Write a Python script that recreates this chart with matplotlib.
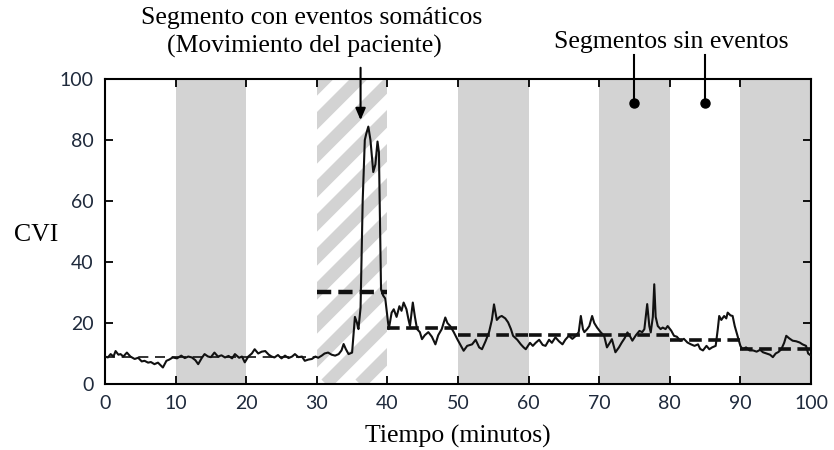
import numpy as np
import matplotlib
matplotlib.use("Agg")
import matplotlib.pyplot as plt
from matplotlib.patches import Rectangle

# CVI signal over time (minutes)
t_min = [0, 0.4, 0.8, 1.2, 1.5, 1.9, 2.2, 2.6, 3.1, 3.6, 4.2, 4.7, 5.2, 5.6, 6.1, 6.5, 7.0, 7.5, 8.2, 8.7,
         9.1, 9.6, 10.2, 10.8, 11.3, 11.8, 12.3, 12.8, 13.2, 13.7, 14.1, 14.6, 15.0, 15.5, 16.0, 16.5, 17.0,
         17.5, 18.0, 18.4, 19.0, 19.4, 19.8, 20.3, 20.8, 21.2, 21.7, 22.2, 22.7, 23.2, 23.6, 24.0, 24.5,
         25.0, 25.5, 26.0, 26.5, 26.9, 27.4, 27.9, 28.3, 28.8, 29.3, 29.8, 30.2, 30.7, 31.1, 31.6, 32.1,
         32.6, 33.1, 33.5, 33.8, 34.1, 34.5, 35.0, 35.4, 35.7, 35.9, 36.2, 36.5, 36.8, 37.0, 37.3, 37.6,
         38.0, 38.3, 38.6, 38.8, 39.1, 39.4, 39.7, 40.0, 40.2, 40.6, 40.9, 41.3, 41.7, 42.0, 42.3, 42.7,
         43.0, 43.2, 43.6, 43.9, 44.2, 44.6, 44.9, 45.3, 45.8, 46.3, 46.8, 47.2, 47.7, 48.2, 48.5, 48.9,
         49.4, 49.9, 50.3, 50.8, 51.3, 52.0, 52.5, 53.0, 53.4, 53.9, 54.4, 54.8, 55.1, 55.5, 55.9, 56.2,
         56.7, 57.1, 57.5, 57.8, 58.4, 58.9, 59.3, 59.6, 60.2, 60.6, 61.0, 61.5, 62.0, 62.4, 62.9, 63.3,
         63.8, 64.3, 64.8, 65.2, 65.7, 66.2, 66.7, 67.1, 67.4, 67.7, 67.9, 68.3, 68.6, 69.0, 69.3, 69.7,
         70.2, 70.7, 71.1, 71.5, 71.8, 72.3, 72.8, 73.2, 73.6, 74.0, 74.4, 74.7, 75.2, 75.7, 76.1, 76.4,
         76.8, 77.1, 77.3, 77.6, 77.8, 78.0, 78.3, 78.7, 79.0, 79.4, 79.7, 80.2, 80.6, 81.0, 81.5, 82.0,
         82.5, 83.0, 83.5, 84.0, 84.3, 84.7, 85.2, 85.6, 86.0, 86.5, 86.8, 87.0, 87.3, 87.7, 88.0, 88.2,
         88.6, 88.9, 89.2, 89.6, 90.0, 90.3, 90.8, 91.3, 91.8, 92.3, 92.8, 93.2, 93.7, 94.2, 94.6, 95.0,
         95.4, 95.8, 96.2, 96.5, 96.9, 97.4, 97.9, 98.4, 98.8, 99.3, 99.6, 100.0]
cvi = [9.0, 8.7, 9.8, 9.0, 10.8, 9.6, 9.8, 9.0, 10.3, 9.0, 8.2, 8.6, 7.4, 7.6, 7.0, 7.2, 6.5, 7.0, 5.4, 7.6,
       8.0, 8.7, 8.4, 9.3, 8.5, 9.0, 8.7, 7.8, 6.5, 8.5, 9.8, 9.0, 8.8, 10.3, 9.0, 9.4, 8.7,
       9.2, 8.4, 9.8, 8.6, 9.0, 7.1, 9.0, 10.0, 11.4, 10.0, 10.6, 10.8, 9.6, 9.0, 8.7, 9.5,
       8.4, 9.3, 8.5, 9.0, 9.8, 8.8, 9.0, 7.6, 8.0, 8.2, 9.0, 8.6, 9.3, 10.0, 10.3, 9.6,
       9.3, 9.8, 11.0, 13.1, 11.5, 9.8, 10.3, 22.0, 20.0, 18.0, 25.0, 60.0, 80.0, 82.0, 84.4, 80.0,
       69.5, 72.0, 79.5, 76.0, 31.0, 29.0, 28.0, 22.0, 18.0, 23.4, 24.5, 22.0, 25.5, 24.0, 26.7, 24.5,
       21.0, 19.0, 26.7, 22.0, 18.0, 17.0, 14.7, 16.0, 17.0, 15.5, 13.0, 16.0, 18.0, 21.8, 20.0, 19.0,
       17.0, 14.7, 13.0, 10.9, 12.5, 13.0, 14.5, 12.0, 11.4, 14.0, 17.0, 21.0, 26.1, 21.0, 22.0, 22.3,
       21.5, 20.2, 18.0, 15.8, 14.5, 13.0, 12.0, 11.4, 13.5, 12.5, 13.5, 14.5, 12.8, 12.5, 14.5, 13.5,
       15.3, 14.0, 13.0, 14.5, 15.8, 14.8, 15.8, 17.0, 22.3, 18.0, 17.0, 18.0, 19.0, 22.3, 20.0, 18.5,
       17.0, 15.8, 12.0, 13.5, 14.7, 10.4, 12.0, 13.6, 15.0, 16.9, 15.5, 14.2, 16.0, 17.4, 17.0, 18.0,
       26.2, 19.0, 16.9, 22.0, 32.7, 22.0, 19.0, 18.0, 18.5, 18.0, 19.0, 17.5, 15.8, 15.5, 14.2, 14.8,
       13.6, 13.0, 12.5, 13.0, 11.5, 11.0, 12.5, 11.4, 12.0, 12.5, 18.0, 22.3, 21.0, 22.3, 21.5, 23.4,
       22.5, 22.3, 19.0, 15.8, 12.5, 11.4, 12.0, 11.0, 11.0, 10.6, 11.2, 10.4, 10.0, 9.6, 8.8, 10.0,
       10.5, 11.4, 13.5, 15.8, 15.0, 14.2, 14.0, 13.6, 13.0, 12.5, 10.0, 9.3]

# 10-minute segments and their mean CVI
seg_start = [0, 10, 20, 30, 40, 50, 60, 70, 80, 90]
seg_mean = [8.7, 8.7, 8.7, 30.0, 18.3, 16.0, 16.0, 16.0, 14.4, 11.4]
shaded_segments = [10, 50, 70, 90]
event_segment = 30
quiet_markers = [75, 85]
xticks = [0, 10, 20, 30, 40, 50, 60, 70, 80, 90, 100]
yticks = [0, 20, 40, 60, 80, 100]

SERIF = "Liberation Serif"
TICKFONT = "Lato"
GRAY = "#d3d3d3"
TXT = 18.5

fig = plt.figure(figsize=(8.34, 4.5), dpi=100)
ax = fig.add_axes([0.1259, 0.1467, 0.8465, 0.6777])
ax.set_xlim(0, 100)
ax.set_ylim(0, 100)

for s in shaded_segments:
    ax.axvspan(s, s + 10, color=GRAY, lw=0, zorder=0)

# diagonal stripes for the segment with somatic events
band = Rectangle((event_segment, 0), 10, 100, transform=ax.transData,
                 facecolor="none", edgecolor="none")
ax.add_patch(band)
fig.canvas.draw()
inv = ax.transData.inverted()
x0p, y0p = ax.transData.transform((event_segment, 0))
x1p, y1p = ax.transData.transform((event_segment + 10, 100))
period = 34.0
for k in np.arange(-(y1p - y0p) - 60, (x1p - x0p) + 60, period):
    p0 = inv.transform((x0p + k, y0p))
    p1 = inv.transform((x0p + k + (y1p - y0p) + 40, y1p + 40))
    ln, = ax.plot([p0[0], p1[0]], [p0[1], p1[1]], color=GRAY, lw=9.0,
                  solid_capstyle="butt", zorder=0.5)
    ln.set_clip_path(band)

# signal
ax.plot(t_min, cvi, color="#111111", lw=1.5, zorder=3)

# segment means
for s, m in zip(seg_start, seg_mean):
    if s < 30:
        lw, dash = 1.2, (6, 4)
    elif s == event_segment:
        lw, dash = 3.2, (3.2, 1.6)
    else:
        lw, dash = 2.6, (3.5, 1.8)
    ax.plot([s, s + 10], [m, m], color="#111111", lw=lw, dashes=dash,
            dash_capstyle="butt", zorder=2.5)

# annotations
ax.annotate("", xy=(36.2, 85.6), xytext=(36.2, 104.6),
            arrowprops=dict(arrowstyle="-|>,head_length=0.7,head_width=0.3",
                            color="black", lw=1.5), annotation_clip=False)
ax.text(29.3, 120.0, "Segmento con eventos somáticos", ha="center", va="center",
        fontsize=TXT, family=SERIF, clip_on=False)
ax.text(28.2, 110.8, "(Movimiento del paciente)", ha="center", va="center",
        fontsize=TXT, family=SERIF, clip_on=False)
ax.text(80.2, 112.0, "Segmentos sin eventos", ha="center", va="center",
        fontsize=TXT, family=SERIF, clip_on=False)
for xm in quiet_markers:
    ax.plot([xm, xm], [92.1, 107.9], color="black", lw=1.5, clip_on=False, zorder=4)
    ax.plot([xm], [92.1], "o", color="black", ms=6.5, clip_on=False, zorder=4)

ax.set_xticks(xticks)
ax.set_yticks(yticks)
ax.tick_params(direction="in", length=6, width=1.3, top=True, right=True,
               labelsize=14, labelcolor="#1f2a3c", pad=8)
for lab in ax.get_xticklabels() + ax.get_yticklabels():
    lab.set_family(TICKFONT)
for sp in ax.spines.values():
    sp.set_linewidth(1.5)

ax.set_xlabel("Tiempo (minutos)", family=SERIF, fontsize=TXT, labelpad=9)
fig.text(0.043, 0.478, "CVI", ha="center", va="center", family=SERIF, fontsize=TXT)

fig.savefig("out.png", dpi=100)
